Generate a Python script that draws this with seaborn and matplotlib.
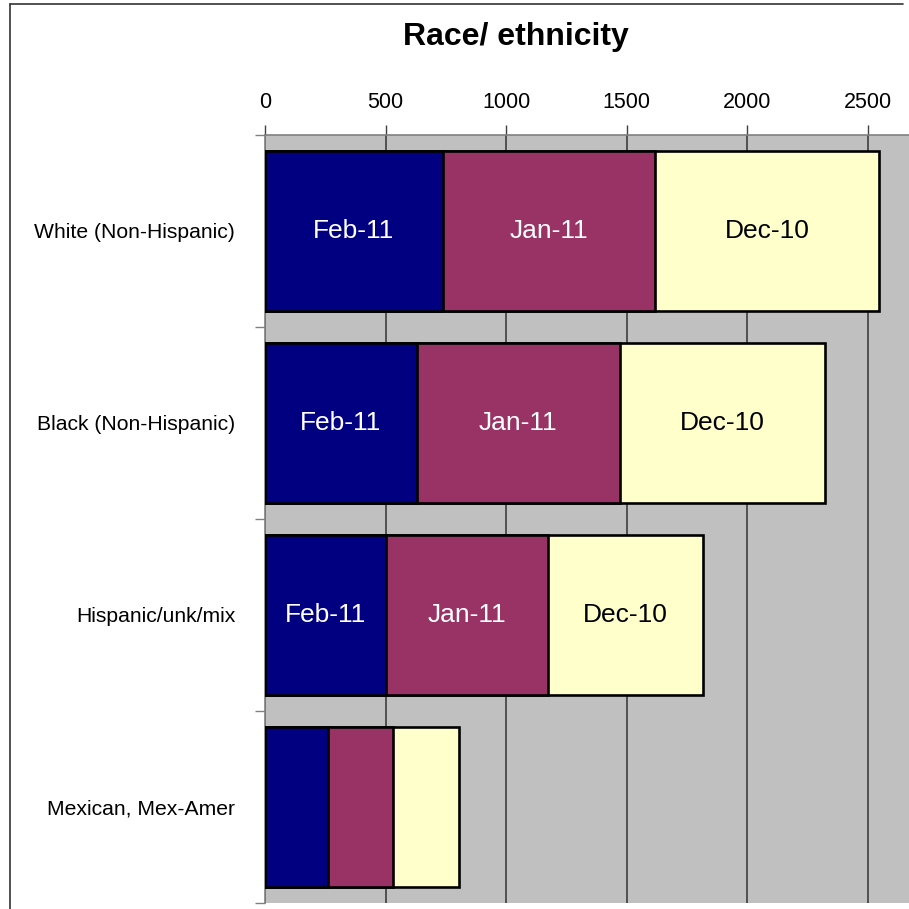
import matplotlib
matplotlib.use("Agg")
import matplotlib.pyplot as plt
from matplotlib.lines import Line2D
import seaborn as sns
import pandas as pd
import numpy as np

# values
groups = ["White (Non-Hispanic)", "Black (Non-Hispanic)", "Hispanic/unk/mix", "Mexican, Mex-Amer"]
months = ["Feb-11", "Jan-11", "Dec-10"]
feb11 = [737, 629, 501, 261]
jan11 = [878, 841, 671, 269]
dec10 = [932, 853, 646, 273]
month_colors = ["#000080", "#993366", "#FFFFCC"]
text_colors = ["white", "white", "black"]
show_labels = [True, True, True, False]

sns.set_style("white")
plt.rcParams["font.family"] = ["Liberation Sans", "DejaVu Sans"]
plt.rcParams["text.color"] = "black"
plt.rcParams["xtick.labelcolor"] = "black"
plt.rcParams["ytick.labelcolor"] = "black"

# cumulative ends so the bars can be stacked by overlaying
vals = np.array([feb11, jan11, dec10])
cum = vals.cumsum(axis=0)

fig = plt.figure(figsize=(9.09, 9.09), dpi=100)
W = H = 909
ax = fig.add_axes([265 / W, 6 / H, (909 - 265) / W, (903 - 135) / H])
ax.set_facecolor("#C0C0C0")

for i in [2, 1, 0]:
    df = pd.DataFrame({"group": groups, "value": cum[i]})
    sns.barplot(data=df, x="value", y="group", orient="h", color=month_colors[i],
                width=0.83, edgecolor="black", linewidth=1.9, saturation=1,
                ax=ax, zorder=3)

for j, g in enumerate(groups):
    if not show_labels[j]:
        continue
    start = 0
    for i in range(3):
        mid = start + vals[i][j] / 2
        ax.text(mid, j, months[i], ha="center", va="center", fontsize=19,
                color=text_colors[i], zorder=5)
        start = cum[i][j]

ax.set_xlim(0, 2670)
ax.set_ylim(3.5, -0.5)
ax.set_xlabel("")
ax.set_ylabel("")
ax.xaxis.tick_top()
ax.set_xticks([0, 500, 1000, 1500, 2000, 2500])
ax.tick_params(axis="x", which="major", direction="out", length=7, width=1,
               color="#404040", labelsize=15.5, pad=9)
ax.set_yticks(range(len(groups)))
ax.set_yticklabels(groups)
ax.set_yticks([-0.5, 0.5, 1.5, 2.5, 3.5], minor=True)
ax.tick_params(axis="y", which="major", length=0, labelsize=15.2, pad=21.5)
ax.tick_params(axis="y", which="minor", direction="out", length=7, width=1,
               color="#808080", left=True)
ax.grid(True, axis="x", color="#333333", linewidth=1.1, zorder=1)
ax.set_axisbelow(True)
for side in ["right", "bottom"]:
    ax.spines[side].set_visible(False)
ax.spines["left"].set_color("#808080")
ax.spines["top"].set_color("#808080")
ax.spines["left"].set_linewidth(1.2)
ax.spines["top"].set_linewidth(1.2)

fig.text(516 / W, 1 - 37 / H, "Race/ ethnicity", ha="center", va="center",
         fontsize=23, fontweight="bold", color="black")

# outer chart frame
fig.add_artist(Line2D([10 / W, 10 / W], [0, 1 - 3.5 / H], color="#333333", linewidth=1.2))
fig.add_artist(Line2D([10 / W, 903 / W], [1 - 3.5 / H, 1 - 3.5 / H], color="#333333", linewidth=1.2))

fig.savefig("out.png", dpi=100)
